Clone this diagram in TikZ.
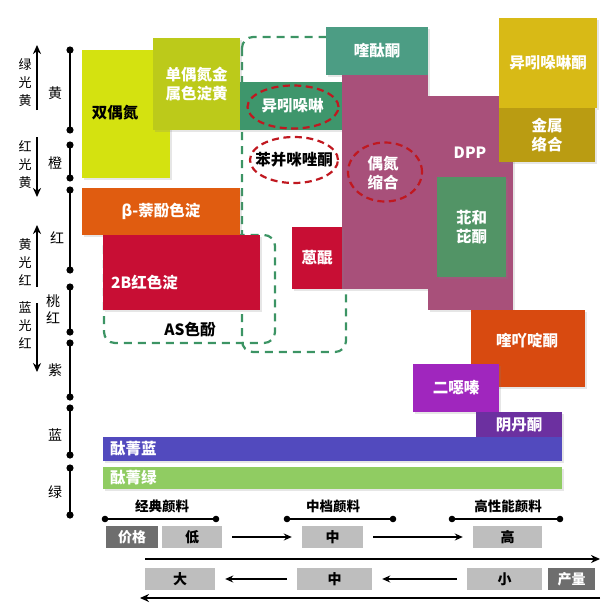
\documentclass[tikz,border=0pt]{standalone}
\usepackage{fontspec}
\setmainfont{Noto Sans CJK SC}
\usepackage{tikz}
\usetikzlibrary{arrows.meta, shapes.geometric, shadows}
\definecolor{disazoyel}{RGB}{212,226,16}
\definecolor{lakeyel}{RGB}{188,202,26}
\definecolor{isoingreen}{RGB}{62,150,108}
\definecolor{quinoteal}{RGB}{76,157,132}
\definecolor{condmauve}{RGB}{168,80,122}
\definecolor{perygreen}{RGB}{82,148,102}
\definecolor{isoyel}{RGB}{216,186,22}
\definecolor{metalyel}{RGB}{186,156,18}
\definecolor{lakecrimson}{RGB}{200,14,52}
\definecolor{naphorange}{RGB}{224,92,16}
\definecolor{quinaorange}{RGB}{216,74,16}
\definecolor{dioxpurple}{RGB}{160,38,190}
\definecolor{indpurple}{RGB}{108,48,160}
\definecolor{phthblue}{RGB}{82,74,190}
\definecolor{phthgreen}{RGB}{144,204,98}
\definecolor{ringgreen}{RGB}{60,148,100}
\definecolor{ringred}{RGB}{192,24,32}
\definecolor{pricedark}{RGB}{110,110,110}
\definecolor{pricelight}{RGB}{190,190,190}

\begin{document}
\begin{tikzpicture}[
  x=1pt, y=-1pt,
  pigbox/.style={rectangle, inner sep=0pt, outer sep=0pt, text=white, align=center, font=\fontsize{15.5}{19}\selectfont\bfseries,
    drop shadow={shadow xshift=1.5pt, shadow yshift=-1.5pt, opacity=0.2}},
  pigboxk/.style={pigbox, text=black},
  pigtext/.style={inner sep=0pt, text=white, align=center, font=\fontsize{15.5}{19}\selectfont\bfseries},
  redring/.style={ellipse, draw=ringred, line width=2.2pt, dash pattern=on 7pt off 4.5pt, inner sep=0pt},
  grpline/.style={draw=ringgreen, line width=2.2pt, dash pattern=on 8pt off 6pt, rounded corners=11pt},
  axisline/.style={line width=1.6pt},
  axislab/.style={font=\fontsize{14}{17}\selectfont, inner sep=0pt, align=center},
  sidelab/.style={font=\fontsize{13}{18}\selectfont, inner sep=0pt, align=center},
  sidearr/.style={-{Stealth[length=9pt, width=8pt]}, line width=2pt},
  tierlab/.style={font=\fontsize{13.5}{16}\selectfont\bfseries, inner sep=0pt},
  tierline/.style={line width=1.3pt},
  pricebox/.style={rectangle, fill=pricelight, minimum height=22pt, inner sep=0pt, font=\fontsize{14}{16}\selectfont\bfseries},
  tagbox/.style={pricebox, fill=pricedark, text=white},
  arr/.style={-{Stealth[length=8pt, width=7pt]}, line width=1.6pt, shorten <=10pt, shorten >=10pt},
  longarr/.style={-{Stealth[length=9pt, width=8pt]}, line width=1.8pt}
]
\useasboundingbox (0,0) rectangle (600,605);

% dashed groups (behind the boxes)
\draw[grpline] (104,235) rectangle (275,343);
\draw[grpline] (242,37) rectangle (346,352);

% pigment boxes
\node[pigboxk, fill=disazoyel, minimum width=88pt, minimum height=128pt] (disazo) at (126,114) {};
\node[pigbox, fill=lakeyel, minimum width=87pt, minimum height=92pt] (monoazo) at (196.5,84) {单偶氮金\\属色淀黄};
\node[pigbox, fill=isoingreen, minimum width=105pt, minimum height=48pt] (isoin) at (292.5,106) {异吲哚啉};
\node[pigbox, fill=quinoteal, minimum width=102pt, minimum height=48pt] (quino) at (377,51) {喹酞酮};
\node[pigbox, fill=condmauve, minimum width=86pt, minimum height=214pt] (azocond) at (385,182) {};
\node[pigbox, fill=condmauve, minimum width=85pt, minimum height=214pt] (dpp) at (470.5,203) {};
\node[pigbox, fill=perygreen, minimum width=69pt, minimum height=100pt] (pery) at (471.5,227) {苝和\\芘酮};
\node[pigbox, fill=isoyel, minimum width=98pt, minimum height=90pt] (isoinone) at (548,63) {异吲哚啉酮};
\node[pigbox, fill=metalyel, minimum width=96pt, minimum height=54pt] (metal) at (547,135) {金属\\络合};
\node[pigbox, fill=lakecrimson, minimum width=50pt, minimum height=62pt] (anthra) at (317,258) {蒽醌};
\node[pigbox, fill=naphorange, minimum width=158pt, minimum height=47pt] (naphthol) at (161,211.5) {β-萘酚色淀};
\node[pigbox, fill=lakecrimson, minimum width=157pt, minimum height=75pt] (lake2b) at (181.5,272.5) {};
\node[pigbox, fill=quinaorange, minimum width=114pt, minimum height=77pt] (quinac) at (528,348.5) {};
\node[pigbox, fill=dioxpurple, minimum width=86pt, minimum height=48pt] (dioxaz) at (456,388) {二噁嗪};
\node[pigbox, fill=indpurple, minimum width=86pt, minimum height=25pt] (indanth) at (519,424.5) {阴丹酮};
\node[pigbox, fill=phthblue, minimum width=459pt, minimum height=24pt] (phblue) at (332.5,449) {};
\node[pigbox, fill=phthgreen, minimum width=459pt, minimum height=22pt] (phgreen) at (332.5,478) {};

% labels placed off centre
\node[pigtext, text=black] (disazolab) at (115,113) {双偶氮};
\node[pigtext] (azocondlab) at (383,173) {偶氮\\缩合};
\node[pigtext] (dpplab) at (470,153) {DPP};
\node[pigtext, anchor=west] (lake2blab) at (111,283) {2B红色淀};
\node[pigtext, text=black] (asnaph) at (190,330) {AS色酚};
\node[pigtext, text=black] (benzim) at (294,160) {苯并咪唑酮};
\node[pigtext] (quinaclab) at (527,341) {喹吖啶酮};
\node[pigtext, anchor=west] (phbluelab) at (110,449) {酞菁蓝};
\node[pigtext, anchor=west] (phgreenlab) at (110,478) {酞菁绿};

% red rings
\node[redring, minimum width=91pt, minimum height=43pt] (isoinring) at (293,107) {};
\node[redring, minimum width=88pt, minimum height=46pt] (benzimring) at (294,160) {};
\node[redring, minimum width=74pt, minimum height=59pt] (azocondring) at (385,172) {};

% colour axis
\foreach \nm/\ya/\yb in {huang/50/130, cheng/145/178, hong/190/270, taohong/287/332, zi/343/397, lan/408/455, lv/468/515} {
  \coordinate (\nm-t) at (70,\ya);
  \coordinate (\nm-b) at (70,\yb);
  \draw[axisline] (\nm-t) -- (\nm-b);
  \fill (\nm-t) circle (3.6pt);
  \fill (\nm-b) circle (3.6pt);
}
\node[axislab] (lab-huang) at (55,93) {黄};
\node[axislab] (lab-cheng) at (55,163) {橙};
\node[axislab] (lab-hong) at (57,238) {红};
\node[axislab] (lab-taohong) at (53,309) {桃\\红};
\node[axislab] (lab-zi) at (55,370) {紫};
\node[axislab] (lab-lan) at (55,435) {蓝};
\node[axislab] (lab-lv) at (55,492) {绿};

% shade arrows
\node[sidelab] (side-lgy) at (25,83) {绿\\光\\黄};
\node[sidelab] (side-rhy) at (25,165) {红\\光\\黄};
\node[sidelab] (side-yhr) at (25,262) {黄\\光\\红};
\node[sidelab] (side-bhr) at (25,325) {蓝\\光\\红};
\coordinate (lgy-s) at (37,110);
\coordinate (lgy-e) at (37,45);
\coordinate (rhy-s) at (37,137);
\coordinate (rhy-e) at (37,197);
\coordinate (yhr-s) at (37,287);
\coordinate (yhr-e) at (37,225);
\coordinate (bhr-s) at (37,303);
\coordinate (bhr-e) at (37,372);
\draw[sidearr] (lgy-s) -- (lgy-e);
\draw[sidearr] (rhy-s) -- (rhy-e);
\draw[sidearr] (yhr-s) -- (yhr-e);
\draw[sidearr] (bhr-s) -- (bhr-e);

% grades
\node[tierlab] (classic) at (162,506) {经典颜料};
\node[tierlab] (midgrade) at (333,506) {中档颜料};
\node[tierlab] (highperf) at (508,506) {高性能颜料};
\coordinate (classic-l) at (105,519);
\coordinate (classic-r) at (216,519);
\coordinate (midgrade-l) at (287,519);
\coordinate (midgrade-r) at (393,519);
\coordinate (highperf-l) at (452,519);
\coordinate (highperf-r) at (560,519);
\foreach \g in {classic, midgrade, highperf} {
  \draw[tierline] (\g-l) -- (\g-r);
  \fill (\g-l) circle (3.3pt);
  \fill (\g-r) circle (3.3pt);
}

% price
\node[tagbox, minimum width=52pt] (price) at (132,537) {价格};
\node[pricebox, minimum width=60pt] (plow) at (192,537) {低};
\node[pricebox, minimum width=61pt] (pmid) at (332.5,537) {中};
\node[pricebox, minimum width=69pt] (phigh) at (507.5,537) {高};
\draw[arr] (plow) -- (pmid);
\draw[arr] (pmid) -- (phigh);
\coordinate (price-s) at (145,559);
\coordinate (price-e) at (600,559);
\draw[longarr] (price-s) -- (price-e);

% output
\node[pricebox, minimum width=70pt] (vbig) at (180,579) {大};
\node[pricebox, minimum width=75pt] (vmid) at (334.5,579) {中};
\node[pricebox, minimum width=75pt] (vsmall) at (504.5,579) {小};
\node[tagbox, minimum width=47pt] (output) at (571.5,579) {产量};
\draw[arr] (vmid) -- (vbig);
\draw[arr] (vsmall) -- (vmid);
\coordinate (out-s) at (600,598);
\coordinate (out-e) at (140,598);
\draw[longarr] (out-s) -- (out-e);

\end{tikzpicture}
\end{document}
